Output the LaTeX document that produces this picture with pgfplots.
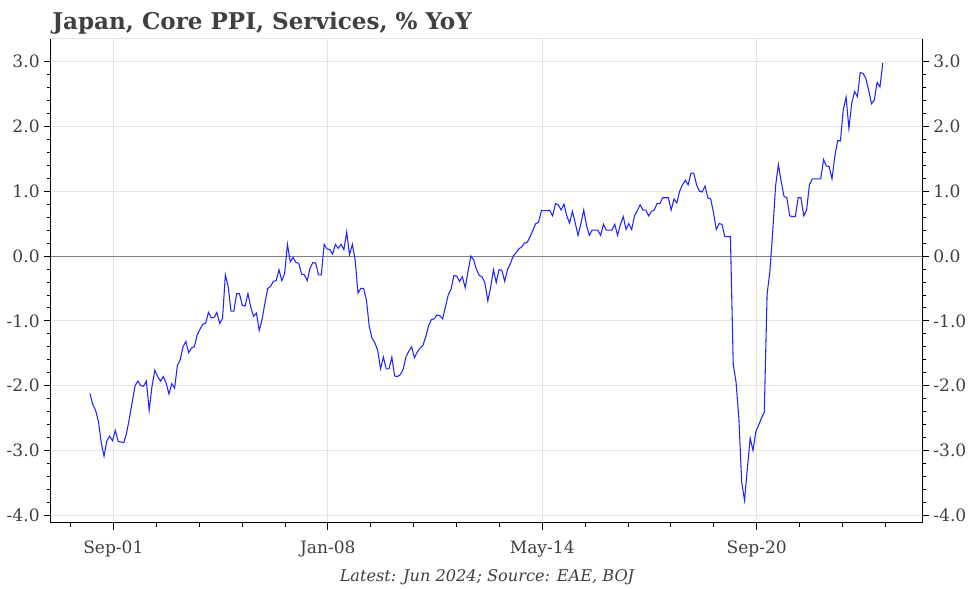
\documentclass[border=0pt]{standalone}
\usepackage{pgfplots}
\pgfplotsset{compat=1.18}
\usepackage{pgfplotstable}
\usepackage{fontspec}
\setmainfont{DejaVu Serif}
\definecolor{txt}{HTML}{404040}
\definecolor{gridc}{HTML}{E4E4E4}
\definecolor{lineblue}{HTML}{2323FF}
\pgfplotstableread{
m v
12 -2.12
13 -2.29
14 -2.38
15 -2.55
16 -2.88
17 -3.09
18 -2.85
19 -2.78
20 -2.85
21 -2.69
22 -2.86
23 -2.87
24 -2.88
25 -2.73
26 -2.50
27 -2.25
28 -2.00
29 -1.93
30 -2.00
31 -2.01
32 -1.93
33 -2.38
34 -2.01
35 -1.76
36 -1.86
37 -1.93
38 -1.86
39 -1.96
40 -2.13
41 -1.97
42 -2.04
43 -1.69
44 -1.60
45 -1.40
46 -1.32
47 -1.49
48 -1.42
49 -1.40
50 -1.22
51 -1.13
52 -1.05
53 -1.04
54 -0.87
55 -0.95
56 -0.95
57 -0.87
58 -1.04
59 -0.96
60 -0.29
61 -0.47
62 -0.85
63 -0.85
64 -0.58
65 -0.58
66 -0.76
67 -0.77
68 -0.58
69 -0.79
70 -0.93
71 -0.88
72 -1.15
73 -0.98
74 -0.73
75 -0.50
76 -0.47
77 -0.39
78 -0.38
79 -0.21
80 -0.38
81 -0.27
82 0.18
83 -0.09
84 -0.02
85 -0.10
86 -0.11
87 -0.28
88 -0.29
89 -0.38
90 -0.19
91 -0.10
92 -0.11
93 -0.29
94 -0.29
95 0.18
96 0.11
97 0.10
98 0.03
99 0.18
100 0.12
101 0.18
102 0.10
103 0.37
104 0.02
105 0.18
106 -0.06
107 -0.57
108 -0.50
109 -0.50
110 -0.68
111 -1.09
112 -1.27
113 -1.34
114 -1.46
115 -1.74
116 -1.56
117 -1.74
118 -1.74
119 -1.56
120 -1.85
121 -1.86
122 -1.83
123 -1.75
124 -1.56
125 -1.47
126 -1.40
127 -1.57
128 -1.48
129 -1.42
130 -1.38
131 -1.25
132 -1.08
133 -0.98
134 -0.97
135 -0.91
136 -0.92
137 -0.97
138 -0.78
139 -0.60
140 -0.51
141 -0.30
142 -0.31
143 -0.39
144 -0.32
145 -0.49
146 -0.24
147 0.00
148 -0.06
149 -0.21
150 -0.30
151 -0.32
152 -0.42
153 -0.69
154 -0.49
155 -0.21
156 -0.41
157 -0.21
158 -0.22
159 -0.39
160 -0.21
161 -0.12
162 0.00
163 0.05
164 0.11
165 0.14
166 0.20
167 0.21
168 0.30
169 0.40
170 0.50
171 0.52
172 0.70
173 0.70
174 0.70
175 0.70
176 0.62
177 0.81
178 0.79
179 0.71
180 0.80
181 0.62
182 0.51
183 0.69
184 0.51
185 0.32
186 0.50
187 0.71
188 0.47
189 0.32
190 0.40
191 0.40
192 0.40
193 0.32
194 0.49
195 0.40
196 0.40
197 0.40
198 0.49
199 0.32
200 0.48
201 0.61
202 0.41
203 0.50
204 0.41
205 0.62
206 0.70
207 0.79
208 0.71
209 0.71
210 0.62
211 0.69
212 0.71
213 0.81
214 0.81
215 0.90
216 0.90
217 0.90
218 0.71
219 0.88
220 0.82
221 1.00
222 1.10
223 1.17
224 1.10
225 1.28
226 1.28
227 1.10
228 1.00
229 0.99
230 1.08
231 0.90
232 0.88
233 0.67
234 0.41
235 0.50
236 0.49
237 0.30
238 0.30
239 0.30
240 -1.67
241 -1.95
242 -2.51
243 -3.49
244 -3.77
245 -3.28
246 -2.81
247 -3.00
248 -2.71
249 -2.61
250 -2.50
251 -2.41
252 -0.59
253 -0.23
254 0.38
255 1.08
256 1.41
257 1.15
258 0.92
259 0.90
260 0.62
261 0.61
262 0.61
263 0.90
264 0.90
265 0.62
266 0.71
267 1.10
268 1.19
269 1.19
270 1.19
271 1.19
272 1.49
273 1.39
274 1.38
275 1.19
276 1.54
277 1.78
278 1.78
279 2.26
280 2.45
281 1.97
282 2.36
283 2.54
284 2.46
285 2.83
286 2.82
287 2.74
288 2.56
289 2.35
290 2.41
291 2.68
292 2.61
293 2.98
}\ppi
\pgfplotsset{
  common/.style={
    at={(0,0)}, anchor=south west,
    scale only axis, width=653.25pt, height=363pt,
    xmin=-1.8, xmax=306.9, ymin=-4.12, ymax=3.35,
    tick align=outside,
    major tick length=5pt, minor tick length=3pt,
    every tick/.style={black, line width=0.6pt},
    axis line style={black, line width=0.75pt},
    ytick={-4,-3,-2,-1,0,1,2,3},
    yticklabels={-4.0,-3.0,-2.0,-1.0,0.0,1.0,2.0,3.0},
    minor y tick num=4,
    tick label style={font=\fontsize{12.8}{15}\selectfont, text=txt},
  }
}
\begin{document}
\begin{tikzpicture}[x=1pt,y=1pt]
\useasboundingbox (-38.25,-49.5) rectangle (690.75,392.25);
\begin{axis}[common,
  axis x line*=bottom, axis y line*=left,
  xtick={20.3,96.3,172.3,248.3},
  xticklabels={Sep-01,Jan-08,May-14,Sep-20},
  minor xtick={5.1,35.5,50.7,65.9,81.1,111.5,126.7,141.9,157.1,187.5,202.7,217.9,233.1,263.5,278.7,293.9},
  xmajorgrids, ymajorgrids,
  major grid style={gridc, line width=0.75pt},
  xticklabel style={yshift=-4.5pt},
  clip=false,
]
\draw[gridc, line width=0.75pt] (rel axis cs:0,1) -- (rel axis cs:1,1);
\draw[black!50, line width=0.75pt] (axis cs:-1.8,0) -- (axis cs:306.9,0);
\addplot[lineblue, line width=0.8pt, mark=none] table[x=m, y=v] {\ppi};
\end{axis}
\begin{axis}[common,
  axis x line=none, axis y line*=right,
]
\addplot[draw=none] coordinates {(0,0)};
\end{axis}
\node[anchor=base west, inner sep=0, font=\bfseries\fontsize{17.3}{20}\selectfont, text=txt] at (0.75,369.75) {Japan, Core PPI, Services, \% YoY};
\node[anchor=base, inner sep=0, font=\itshape\fontsize{12.1}{14}\selectfont, text=txt] at (327,-44.25) {Latest: Jun 2024; Source: EAE, BOJ};
\end{tikzpicture}
\end{document}
